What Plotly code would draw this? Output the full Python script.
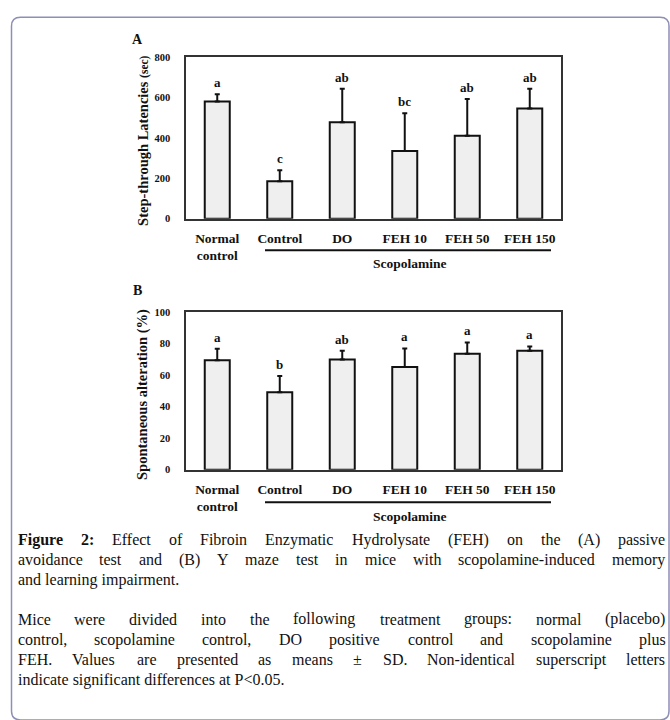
import plotly.graph_objects as go

# ---------------- data ----------------
categories = ["Normal<br>control", "Control", "DO", "FEH 10", "FEH 50", "FEH 150"]
latency_mean = [580, 185, 478, 335, 411, 546]
latency_sd = [37, 55, 166, 187, 182, 98]
latency_letters = ["a", "c", "ab", "bc", "ab", "ab"]
latency_ticks = [0, 200, 400, 600, 800]

alternation_mean = [69.6, 49.2, 70.0, 65.2, 73.7, 75.6]
alternation_sd = [7.2, 10.4, 5.6, 11.8, 7.1, 2.7]
alternation_letters = ["a", "b", "ab", "a", "a", "a"]
alternation_ticks = [0, 20, 40, 60, 80, 100]

caption_par1 = [
    "<b>Figure</b> <b>2:</b> Effect of Fibroin Enzymatic Hydrolysate (FEH) on the (A) passive",
    "avoidance test and (B) Y maze test in mice with scopolamine-induced memory",
    "and learning impairment.",
]
caption_par2 = [
    "Mice were divided into the following treatment groups: normal (placebo)",
    "control, scopolamine control, DO positive control and scopolamine plus",
    "FEH. Values are presented as means ± SD. Non-identical superscript letters",
    "indicate significant differences at P<0.05.",
]

# ---------------- layout helpers ----------------
W, H = 670, 720
SERIF = "Liberation Serif"


def px(x):
    return x / W


def py(y):
    return 1 - y / H


# Times (Liberation Serif) advance widths, 1/1000 em
REG = {" ": 250, "(": 333, ")": 333, ",": 250, "-": 333, ".": 250, ":": 278,
       "<": 564, "±": 564, "0": 500, "1": 500, "2": 500, "3": 500, "4": 500,
       "5": 500, "6": 500, "7": 500, "8": 500, "9": 500,
       "A": 722, "B": 667, "C": 667, "D": 722, "E": 611, "F": 556, "G": 722,
       "H": 722, "I": 333, "J": 389, "K": 722, "L": 611, "M": 889, "N": 722,
       "O": 722, "P": 556, "Q": 722, "R": 667, "S": 556, "T": 611, "U": 722,
       "V": 722, "W": 944, "X": 722, "Y": 722, "Z": 611,
       "a": 444, "b": 500, "c": 444, "d": 500, "e": 444, "f": 333, "g": 500,
       "h": 500, "i": 278, "j": 278, "k": 500, "l": 278, "m": 778, "n": 500,
       "o": 500, "p": 500, "q": 500, "r": 333, "s": 389, "t": 278, "u": 500,
       "v": 500, "w": 722, "x": 500, "y": 500, "z": 444}
BOLD = {"F": 611, "i": 278, "g": 500, "u": 556, "r": 444, "e": 444, "2": 500, ":": 333}


def word_width(word, size):
    bold = word.startswith("<b>")
    plain = word.replace("<b>", "").replace("</b>", "")
    table = BOLD if bold else REG
    return sum(table.get(ch, REG.get(ch, 500)) for ch in plain) * size / 1000.0


CAP_SIZE = 16
CAP_L, CAP_R = 17.5, 665.5

fig = go.Figure()

bar_style = dict(marker=dict(color="#efefef", line=dict(color="#111111", width=2)),
                 width=0.4, showlegend=False, hoverinfo="skip")

fig.add_trace(go.Bar(
    x=categories, y=latency_mean, xaxis="x", yaxis="y",
    error_y=dict(type="data", array=latency_sd, arrayminus=[0] * len(latency_sd),
                 symmetric=False, color="#111111", thickness=2, width=2.5),
    **bar_style))
fig.add_trace(go.Bar(
    x=categories, y=alternation_mean, xaxis="x2", yaxis="y2",
    error_y=dict(type="data", array=alternation_sd, arrayminus=[0] * len(alternation_sd),
                 symmetric=False, color="#111111", thickness=2, width=2.5),
    **bar_style))

tickfont_x = dict(family=SERIF, size=13.5, color="#111111", weight="bold")
tickfont_y = dict(family=SERIF, size=10.5, color="#111111", weight="bold")
axis_common = dict(showline=True, mirror=True, linecolor="#333333", linewidth=1.5,
                   ticks="", showgrid=False, zeroline=False)

x_dom = [px(186), px(561)]
fig.update_layout(
    width=W, height=H, autosize=False,
    margin=dict(l=0, r=0, t=0, b=0),
    paper_bgcolor="white", plot_bgcolor="white",
    bargap=0.6,
    xaxis=dict(domain=x_dom, anchor="y", range=[-0.5, 5.5], tickfont=tickfont_x,
               ticklabelstandoff=6, **axis_common),
    yaxis=dict(domain=[py(217), py(53)], anchor="x", range=[0, 800],
               tickvals=latency_ticks, tickfont=tickfont_y, ticklabelstandoff=12,
               **axis_common),
    xaxis2=dict(domain=x_dom, anchor="y2", range=[-0.5, 5.5], tickfont=tickfont_x,
                ticklabelstandoff=6, **axis_common),
    yaxis2=dict(domain=[py(472), py(312)], anchor="x2", range=[0, 100],
                tickvals=alternation_ticks, tickfont=tickfont_y, ticklabelstandoff=12,
                **axis_common),
)

annotations = []
bold_font = lambda s: dict(family=SERIF, size=s, color="#111111", weight="bold")


def paper_text(x, y, text, font, **kw):
    d = dict(x=px(x), y=py(y), xref="paper", yref="paper", text=text, showarrow=False,
             xanchor="center", yanchor="middle", font=font)
    d.update(kw)
    annotations.append(d)


# significance letters
for cat, m, s, lt in zip(categories, latency_mean, latency_sd, latency_letters):
    annotations.append(dict(x=cat, y=m + s, xref="x", yref="y", text=lt, showarrow=False,
                            xanchor="center", yanchor="bottom", yshift=2, font=bold_font(13)))
for cat, m, s, lt in zip(categories, alternation_mean, alternation_sd, alternation_letters):
    annotations.append(dict(x=cat, y=m + s, xref="x2", yref="y2", text=lt, showarrow=False,
                            xanchor="center", yanchor="bottom", yshift=2, font=bold_font(13)))

# panel letters
paper_text(137, 35, "A", bold_font(14))
paper_text(137, 290, "B", bold_font(14))

# y-axis titles
paper_text(143, 138, "Step-through Latencies <span style='font-size:11.5px'>(sec)</span>",
           bold_font(14.5), textangle=-90)
paper_text(143, 396, "Spontaneous alteration (%)", bold_font(14.5), textangle=-90)

# Scopolamine brackets
shapes = []
for line_y, label_y in [(249, 263), (505, 519)]:
    shapes.append(dict(type="line", xref="paper", yref="paper", x0=px(265), x1=px(551),
                       y0=py(line_y), y1=py(line_y), line=dict(color="#111111", width=2)))
    paper_text(410, label_y, "Scopolamine", bold_font(13.5))

# caption (justified)
cap_font = dict(family=SERIF, size=CAP_SIZE, color="#111111")


def add_lines(lines, y_start, step):
    for i, line in enumerate(lines):
        yy = y_start + i * step
        last = (i == len(lines) - 1)
        words = line.split(" ")
        if last:
            paper_text(CAP_L, yy, line, cap_font, xanchor="left", borderpad=0, borderwidth=0)
            continue
        widths = [word_width(w, CAP_SIZE) for w in words]
        gap = (CAP_R - CAP_L - sum(widths)) / (len(words) - 1)
        xx = CAP_L
        for w, wd in zip(words, widths):
            paper_text(xx, yy, w, cap_font, xanchor="left", borderpad=0, borderwidth=0)
            xx += wd + gap


add_lines(caption_par1, 543, 20.5)
add_lines(caption_par2, 624, 20.5)

# outer rounded frame (bottom edge sits just below the visible area)
x0, x1, y0, y1, r = 11.5, 669, 12.5, 726, 9
rx, ry = r / W, r / H
path = (f"M {px(x0)},{py(y0) - ry} Q {px(x0)},{py(y0)} {px(x0) + rx},{py(y0)} "
        f"L {px(x1) - rx},{py(y0)} Q {px(x1)},{py(y0)} {px(x1)},{py(y0) - ry} "
        f"L {px(x1)},{py(y1) + ry} Q {px(x1)},{py(y1)} {px(x1) - rx},{py(y1)} "
        f"L {px(x0) + rx},{py(y1)} Q {px(x0)},{py(y1)} {px(x0)},{py(y1) + ry} Z")
shapes.append(dict(type="path", xref="paper", yref="paper", path=path,
                   line=dict(color="#8e8eb6", width=1.5)))

fig.update_layout(annotations=annotations, shapes=shapes)
fig.write_html(
    "out.html",
    config={"displayModeBar": False},
    post_script="document.body.style.margin='0';document.body.style.padding='0';"
                "document.documentElement.style.overflow='hidden';",
)
